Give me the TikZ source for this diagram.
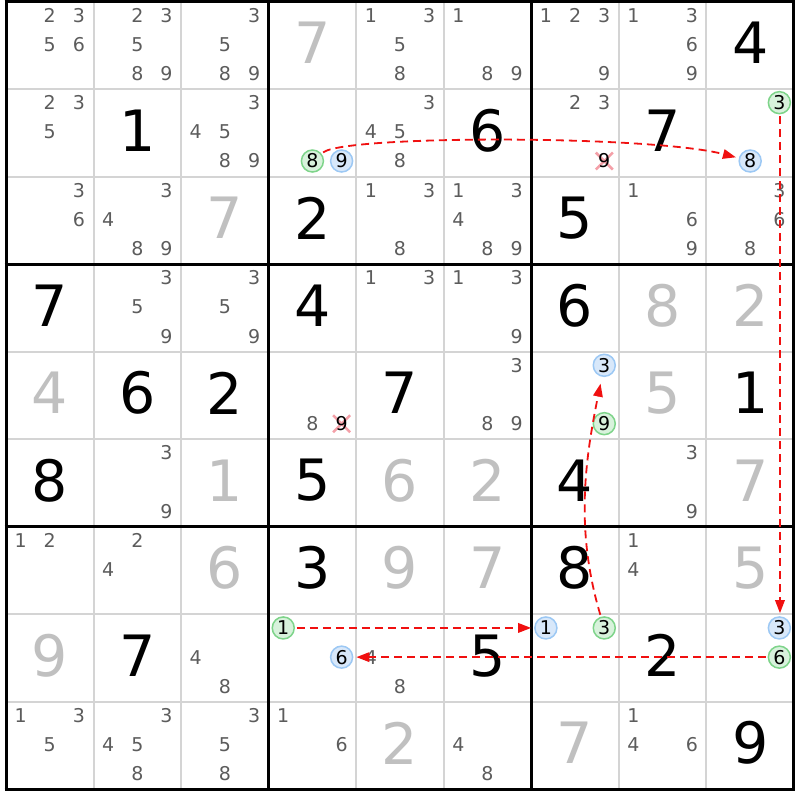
\documentclass[tikz,border=0pt]{standalone}
\usepackage{fontspec}
\setmainfont{DejaVu Sans}
\usetikzlibrary{arrows.meta}
\definecolor{pmgray}{HTML}{5C5C5C}
\definecolor{solvedgray}{HTML}{C0C0C0}
\definecolor{gridgray}{HTML}{D4D4D4}
\definecolor{cgreenline}{HTML}{7ED48A}
\definecolor{cgreenfill}{HTML}{D8F2DC}
\definecolor{cblueline}{HTML}{9CC8F4}
\definecolor{cbluefill}{HTML}{D8E8FA}
\definecolor{linkred}{HTML}{F01010}
\definecolor{xpink}{HTML}{F4A0A8}
\def\cs{87.55}
\def\gx{6}
\def\gy{1.5}
\newcommand\pmnode[5]{%
  \pgfmathsetmacro\pmx{\gx+#2*\cs+(mod(#3-1,3)+0.5)*\cs/3}%
  \pgfmathsetmacro\pmy{\gy+#1*\cs+(int((#3-1)/3)+0.5)*\cs/3-1}%
  \node[#4] (#5) at (\pmx,-\pmy) {#3};}
\newcommand\elimnode[4]{%
  \pgfmathsetmacro\pmx{\gx+#2*\cs+(mod(#3-1,3)+0.5)*\cs/3}%
  \pgfmathsetmacro\pmy{\gy+#1*\cs+(int((#3-1)/3)+0.5)*\cs/3-1}%
  \draw[xmark] (\pmx-8.5,-\pmy-8.5) -- (\pmx+8.5,-\pmy+8.5)
               (\pmx-8.5,-\pmy+8.5) -- (\pmx+8.5,-\pmy-8.5);
  \node[elim] (#4) at (\pmx,-\pmy) {#3};}
\tikzset{
  given/.style={text=black, font=\fontsize{57}{57}\selectfont, inner sep=0pt},
  solved/.style={text=solvedgray, font=\fontsize{57}{57}\selectfont, inner sep=0pt},
  pm/.style={text=pmgray, font=\fontsize{19}{19}\selectfont, inner sep=0pt},
  elim/.style={text=black, font=\fontsize{19}{19}\selectfont, inner sep=0pt},
  xmark/.style={draw=xpink, line width=2.5pt},
  cg/.style={circle, draw=cgreenline, fill=cgreenfill, line width=1.5pt, minimum size=22pt, inner sep=0pt, text=black, font=\fontsize{19}{19}\selectfont},
  cb/.style={circle, draw=cblueline, fill=cbluefill, line width=1.5pt, minimum size=22pt, inner sep=0pt, text=black, font=\fontsize{19}{19}\selectfont},
  link/.style={draw=linkred, line width=1.8pt, dash pattern=on 8pt off 5pt, -{Triangle[length=13pt,width=9.5pt]}, shorten <=2pt, shorten >=3pt},
  gridthin/.style={draw=gridgray, line width=2pt},
  gridthick/.style={draw=black, line width=3pt}
}
\begin{document}
\begin{tikzpicture}[x=1pt,y=1pt]
\useasboundingbox (0,0) rectangle (800,-800);
\fill[white] (0,0) rectangle (800,-800);
% grid
\foreach \i in {1,2,4,5,7,8}{
  \draw[gridthin] ({\gx+\i*\cs},-\gy) -- ({\gx+\i*\cs},{-\gy-9*\cs});
  \draw[gridthin] (\gx,{-\gy-\i*\cs}) -- ({\gx+9*\cs},{-\gy-\i*\cs});
}
\foreach \i in {0,3,6,9}{
  \draw[gridthick] ({\gx+\i*\cs},{-\gy+1.5}) -- ({\gx+\i*\cs},{-\gy-9*\cs-1.5});
  \draw[gridthick] ({\gx-1.5},{-\gy-\i*\cs}) -- ({\gx+9*\cs+1.5},{-\gy-\i*\cs});
}
% given digits
\foreach \r/\c/\d in {0/8/4, 1/1/1, 1/5/6, 1/7/7, 2/3/2, 2/6/5, 3/0/7, 3/3/4, 3/6/6, 4/1/6, 4/2/2, 4/4/7, 4/8/1, 5/0/8, 5/3/5, 5/6/4, 6/3/3, 6/6/8, 7/1/7, 7/5/5, 7/7/2, 8/8/9}
  \node[given] (g-\r-\c) at ({\gx+(\c+0.5)*\cs},{-\gy-(\r+0.5)*\cs+2.5}) {\d};
% solved digits
\foreach \r/\c/\d in {0/3/7, 2/2/7, 3/7/8, 3/8/2, 4/0/4, 4/7/5, 5/2/1, 5/4/6, 5/5/2, 5/8/7, 6/2/6, 6/4/9, 6/5/7, 6/8/5, 7/0/9, 8/4/2, 8/6/7}
  \node[solved] (s-\r-\c) at ({\gx+(\c+0.5)*\cs},{-\gy-(\r+0.5)*\cs+2.5}) {\d};
% pencil marks
\foreach \r/\c/\L in {0/0/{2,3,5,6}, 0/1/{2,3,5,8,9}, 0/2/{3,5,8,9}, 0/4/{1,3,5,8}, 0/5/{1,8,9}, 0/6/{1,2,3,9}, 0/7/{1,3,6,9},
  1/0/{2,3,5}, 1/2/{3,4,5,8,9}, 1/4/{3,4,5,8}, 1/6/{2,3},
  2/0/{3,6}, 2/1/{3,4,8,9}, 2/4/{1,3,8}, 2/5/{1,3,4,8,9}, 2/7/{1,6,9}, 2/8/{3,6,8},
  3/1/{3,5,9}, 3/2/{3,5,9}, 3/4/{1,3}, 3/5/{1,3,9},
  4/3/{8}, 4/5/{3,8,9},
  5/1/{3,9}, 5/7/{3,9},
  6/0/{1,2}, 6/1/{2,4}, 6/7/{1,4},
  7/2/{4,8}, 7/4/{4,8},
  8/0/{1,3,5}, 8/1/{3,4,5,8}, 8/2/{3,5,8}, 8/3/{1,6}, 8/5/{4,8}, 8/7/{1,4,6}}{
  \foreach \d in \L {\pmnode{\r}{\c}{\d}{pm}{p-\r-\c-\d}}
}
% eliminated candidates
\elimnode{1}{6}{9}{x169}
\elimnode{4}{3}{9}{x439}
% circled candidates
\pmnode{1}{3}{8}{cg}{a8}
\pmnode{1}{3}{9}{cb}{a9}
\pmnode{1}{8}{3}{cg}{b3}
\pmnode{1}{8}{8}{cb}{b8}
\pmnode{4}{6}{3}{cb}{c3}
\pmnode{4}{6}{9}{cg}{c9}
\pmnode{7}{3}{1}{cg}{d1}
\pmnode{7}{3}{6}{cb}{d6}
\pmnode{7}{6}{1}{cb}{e1}
\pmnode{7}{6}{3}{cg}{e3}
\pmnode{7}{8}{3}{cb}{f3}
\pmnode{7}{8}{6}{cg}{f6}
% links
\draw[link] (a8) .. controls (345,-135) and (650,-135) .. (b8);
\draw[link] ([xshift=0.6pt]b3.south) -- ([xshift=0.6pt]f3.north);
\draw[link] (d1) -- (e1);
\draw[link] (f6) -- (d6);
\draw[link, shorten >=7pt] (e3) .. controls (575,-530) and (585,-460) .. (c3);
\end{tikzpicture}
\end{document}
